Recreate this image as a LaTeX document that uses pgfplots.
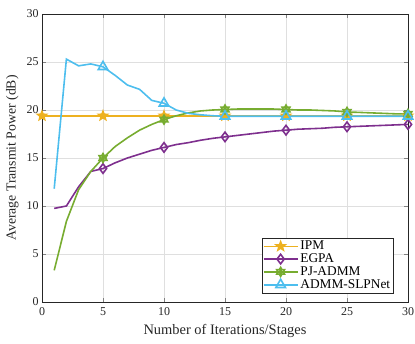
\documentclass[border=0pt]{standalone}
\usepackage{fontspec}
\setmainfont{Liberation Serif}
\usepackage{pgfplots}
\pgfplotsset{compat=1.18}
\definecolor{mY}{rgb}{0.929,0.694,0.125}
\definecolor{mP}{rgb}{0.494,0.184,0.556}
\definecolor{mG}{rgb}{0.466,0.674,0.188}
\definecolor{mB}{rgb}{0.301,0.745,0.933}
\pgfdeclareplotmark{pentagram}{%
  \pgfpathmoveto{\pgfqpointpolar{90}{\pgfplotmarksize}}%
  \pgfpathlineto{\pgfqpointpolar{126}{0.42\pgfplotmarksize}}%
  \pgfpathlineto{\pgfqpointpolar{162}{\pgfplotmarksize}}%
  \pgfpathlineto{\pgfqpointpolar{198}{0.42\pgfplotmarksize}}%
  \pgfpathlineto{\pgfqpointpolar{234}{\pgfplotmarksize}}%
  \pgfpathlineto{\pgfqpointpolar{270}{0.42\pgfplotmarksize}}%
  \pgfpathlineto{\pgfqpointpolar{306}{\pgfplotmarksize}}%
  \pgfpathlineto{\pgfqpointpolar{342}{0.42\pgfplotmarksize}}%
  \pgfpathlineto{\pgfqpointpolar{18}{\pgfplotmarksize}}%
  \pgfpathlineto{\pgfqpointpolar{54}{0.42\pgfplotmarksize}}%
  \pgfpathclose
  \pgfusepathqfillstroke}
\pgfdeclareplotmark{hexagram}{%
  \pgfpathmoveto{\pgfqpointpolar{90}{\pgfplotmarksize}}%
  \pgfpathlineto{\pgfqpointpolar{120}{0.58\pgfplotmarksize}}%
  \pgfpathlineto{\pgfqpointpolar{150}{\pgfplotmarksize}}%
  \pgfpathlineto{\pgfqpointpolar{180}{0.58\pgfplotmarksize}}%
  \pgfpathlineto{\pgfqpointpolar{210}{\pgfplotmarksize}}%
  \pgfpathlineto{\pgfqpointpolar{240}{0.58\pgfplotmarksize}}%
  \pgfpathlineto{\pgfqpointpolar{270}{\pgfplotmarksize}}%
  \pgfpathlineto{\pgfqpointpolar{300}{0.58\pgfplotmarksize}}%
  \pgfpathlineto{\pgfqpointpolar{330}{\pgfplotmarksize}}%
  \pgfpathlineto{\pgfqpointpolar{0}{0.58\pgfplotmarksize}}%
  \pgfpathlineto{\pgfqpointpolar{30}{\pgfplotmarksize}}%
  \pgfpathlineto{\pgfqpointpolar{60}{0.58\pgfplotmarksize}}%
  \pgfpathclose
  \pgfpathcircle{\pgfpointorigin}{0.3\pgfplotmarksize}%
  \pgfusepathqstroke}
\begin{document}
\begin{tikzpicture}
\begin{axis}[
  scale only axis, width=366bp, height=288bp,
  xmin=0, xmax=30, ymin=0, ymax=30,
  xtick={0,5,...,30}, ytick={0,5,...,30},
  grid=major, major grid style={gray!25, line width=0.5pt},
  tick align=inside, tick pos=both,
  axis line style={black!85, line width=0.5pt},
  /pgf/number format/assume math mode=true,
  tick label style={font=\fontsize{12}{14}\selectfont, black!85},
  xticklabel style={yshift=-2pt},
  xlabel={Number of Iterations/Stages},
  ylabel={Average Transmit Power (dB)},
  xlabel style={font=\fontsize{14.5}{16}\selectfont, black!85, yshift=-2pt},
  ylabel style={font=\fontsize{13.8}{16}\selectfont, black!85, yshift=1pt},
  legend style={font=\fontsize{13.4}{15}\selectfont, draw=black!85, at={(0.96,0.031)}, anchor=south east, inner xsep=1pt, inner ysep=2pt, row sep=0.5pt, cells={anchor=west}, nodes={inner xsep=2pt, inner ysep=1pt}},
  legend image code/.code={\draw[#1, line width=1.6pt] (0cm,0cm) -- (34bp,0cm); \draw[#1, line width=1.6pt, mark repeat=1, mark phase=1] plot coordinates {(17bp,0cm)};},
  every axis plot/.append style={line width=1.6pt, mark size=4.5pt},
]
\addplot[color=mY, mark=pentagram, mark options={fill=mY}, mark repeat=5, mark phase=1]
coordinates {(0,19.4)(1,19.4)(2,19.4)(3,19.4)(4,19.4)(5,19.4)(6,19.4)(7,19.4)(8,19.4)(9,19.4)(10,19.4)(11,19.4)(12,19.4)(13,19.4)(14,19.4)(15,19.4)(16,19.4)(17,19.4)(18,19.4)(19,19.4)(20,19.4)(21,19.4)(22,19.4)(23,19.4)(24,19.4)(25,19.4)(26,19.4)(27,19.4)(28,19.4)(29,19.4)(30,19.4)};
\addlegendentry{IPM}
\addplot[color=mP, mark=diamond, mark size=4.8pt, mark repeat=5, mark phase=5]
coordinates {(1,9.75)(2,10.0)(3,12.0)(4,13.6)(5,13.9)(6,14.5)(7,15.0)(8,15.4)(9,15.8)(10,16.1)(11,16.4)(12,16.6)(13,16.85)(14,17.05)(15,17.2)(16,17.35)(17,17.5)(18,17.65)(19,17.8)(20,17.9)(21,18.0)(22,18.05)(23,18.1)(24,18.2)(25,18.25)(26,18.3)(27,18.35)(28,18.4)(29,18.45)(30,18.5)};
\addlegendentry{EGPA}
\addplot[color=mG, mark=hexagram, mark repeat=5, mark phase=5]
coordinates {(1,3.3)(2,8.4)(3,11.7)(4,13.6)(5,15.0)(6,16.2)(7,17.1)(8,17.9)(9,18.5)(10,19.0)(11,19.4)(12,19.7)(13,19.9)(14,20.0)(15,20.05)(16,20.1)(17,20.1)(18,20.1)(19,20.1)(20,20.05)(21,20.0)(22,20.0)(23,19.95)(24,19.9)(25,19.8)(26,19.75)(27,19.7)(28,19.65)(29,19.6)(30,19.6)};
\addlegendentry{PJ-ADMM}
\addplot[color=mB, mark=triangle, mark size=5.5pt, mark repeat=5, mark phase=5]
coordinates {(1,11.8)(2,25.3)(3,24.6)(4,24.8)(5,24.5)(6,23.6)(7,22.6)(8,22.15)(9,21.0)(10,20.7)(11,20.0)(12,19.65)(13,19.5)(14,19.4)(15,19.35)(16,19.35)(17,19.35)(18,19.35)(19,19.35)(20,19.35)(21,19.35)(22,19.35)(23,19.35)(24,19.35)(25,19.35)(26,19.35)(27,19.35)(28,19.35)(29,19.35)(30,19.35)};
\addlegendentry{ADMM-SLPNet}
\end{axis}
\pgfresetboundingbox
\path[use as bounding box] (-42bp,-42bp) rectangle (373bp,302bp);
\end{tikzpicture}
\end{document}
